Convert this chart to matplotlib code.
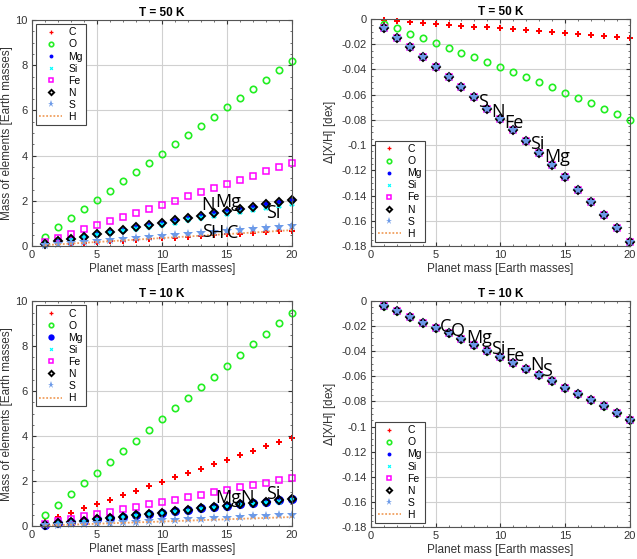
import matplotlib
matplotlib.use("Agg")
import matplotlib.pyplot as plt
from matplotlib.ticker import AutoMinorLocator

plt.rcParams['font.family'] = ['Liberation Sans', 'DejaVu Sans']

planet_mass = [1, 2, 3, 4, 5, 6, 7, 8, 9, 10, 11, 12, 13, 14, 15, 16, 17, 18, 19, 20]

# mass of elements, T = 50 K
C_50 = [0.03, 0.07, 0.10, 0.14, 0.17, 0.20, 0.24, 0.27, 0.31, 0.34, 0.37, 0.41, 0.44, 0.48, 0.51, 0.54, 0.58, 0.61, 0.65, 0.68]
O_50 = [0.41, 0.82, 1.23, 1.64, 2.04, 2.45, 2.86, 3.27, 3.68, 4.09, 4.50, 4.91, 5.32, 5.73, 6.14, 6.55, 6.96, 7.37, 7.78, 8.18]
Mg_50 = [0.10, 0.21, 0.31, 0.41, 0.51, 0.62, 0.72, 0.82, 0.92, 1.03, 1.13, 1.23, 1.33, 1.44, 1.54, 1.64, 1.74, 1.85, 1.95, 2.05]
Si_50 = [0.09, 0.19, 0.28, 0.38, 0.47, 0.56, 0.66, 0.75, 0.85, 0.94, 1.03, 1.13, 1.22, 1.32, 1.41, 1.50, 1.60, 1.69, 1.79, 1.88]
Fe_50 = [0.18, 0.37, 0.55, 0.73, 0.92, 1.10, 1.28, 1.46, 1.65, 1.83, 2.01, 2.20, 2.38, 2.56, 2.75, 2.93, 3.11, 3.30, 3.48, 3.66]
N_50 = [0.10, 0.21, 0.31, 0.41, 0.51, 0.62, 0.72, 0.82, 0.92, 1.03, 1.13, 1.23, 1.33, 1.44, 1.54, 1.64, 1.74, 1.85, 1.95, 2.05]
S_50 = [0.04, 0.09, 0.13, 0.18, 0.22, 0.26, 0.31, 0.35, 0.40, 0.44, 0.48, 0.53, 0.57, 0.62, 0.66, 0.70, 0.75, 0.79, 0.84, 0.88]
H_50 = [0.035, 0.07, 0.105, 0.14, 0.175, 0.21, 0.245, 0.28, 0.315, 0.35, 0.385, 0.42, 0.455, 0.49, 0.525, 0.56, 0.595, 0.63, 0.665, 0.70]

# mass of elements, T = 10 K
C_10 = [0.20, 0.39, 0.59, 0.78, 0.98, 1.18, 1.37, 1.57, 1.77, 1.96, 2.16, 2.36, 2.55, 2.75, 2.95, 3.14, 3.34, 3.54, 3.73, 3.93]
O_10 = [0.475, 0.95, 1.43, 1.90, 2.38, 2.85, 3.33, 3.80, 4.28, 4.75, 5.23, 5.70, 6.18, 6.65, 7.13, 7.60, 8.08, 8.55, 9.03, 9.50]
Mg_10 = [0.06, 0.12, 0.18, 0.24, 0.30, 0.36, 0.42, 0.48, 0.54, 0.60, 0.66, 0.72, 0.78, 0.84, 0.90, 0.96, 1.02, 1.08, 1.14, 1.20]
Si_10 = [0.058, 0.115, 0.17, 0.23, 0.29, 0.35, 0.40, 0.46, 0.52, 0.58, 0.63, 0.69, 0.75, 0.81, 0.86, 0.92, 0.98, 1.04, 1.09, 1.15]
Fe_10 = [0.11, 0.21, 0.32, 0.43, 0.54, 0.64, 0.75, 0.86, 0.97, 1.07, 1.18, 1.29, 1.40, 1.50, 1.61, 1.72, 1.83, 1.93, 2.04, 2.15]
N_10 = [0.06, 0.12, 0.18, 0.24, 0.30, 0.36, 0.42, 0.48, 0.54, 0.60, 0.66, 0.72, 0.78, 0.84, 0.90, 0.96, 1.02, 1.08, 1.14, 1.20]
S_10 = [0.025, 0.05, 0.075, 0.10, 0.125, 0.15, 0.175, 0.20, 0.225, 0.25, 0.275, 0.30, 0.325, 0.35, 0.375, 0.40, 0.425, 0.45, 0.475, 0.50]
H_10 = [0.02, 0.04, 0.06, 0.08, 0.10, 0.12, 0.14, 0.16, 0.18, 0.20, 0.22, 0.24, 0.26, 0.28, 0.30, 0.32, 0.34, 0.36, 0.38, 0.40]

# delta [X/H], T = 50 K
dC_50 = [-0.0008, -0.0015, -0.0022, -0.003, -0.0037, -0.0045, -0.0052, -0.006, -0.0067, -0.0075,
         -0.0082, -0.009, -0.0097, -0.0105, -0.0112, -0.012, -0.0127, -0.0135, -0.0142, -0.015]
dO_50 = [-0.004, -0.0075, -0.0115, -0.0152, -0.019, -0.0228, -0.0267, -0.0305, -0.0343, -0.038,
         -0.042, -0.046, -0.050, -0.054, -0.0585, -0.0627, -0.067, -0.0713, -0.0757, -0.080]
dRock_50 = [-0.0075, -0.015, -0.0225, -0.030, -0.038, -0.046, -0.054, -0.062, -0.071, -0.0795,
            -0.088, -0.097, -0.106, -0.1155, -0.1255, -0.1355, -0.1455, -0.1555, -0.166, -0.177]
dH_50 = [0, 0, 0, 0, 0, 0, 0, 0, 0, 0, 0, 0, 0, 0, 0, 0, 0, 0, 0, 0]

# delta [X/H], T = 10 K (all elements coincide)
dAll_10 = [-0.0045, -0.0085, -0.013, -0.0175, -0.022, -0.026, -0.0305, -0.035, -0.040, -0.045,
           -0.0495, -0.054, -0.059, -0.064, -0.069, -0.074, -0.079, -0.084, -0.089, -0.0945]
dH_10 = [0, 0, 0, 0, 0, 0, 0, 0, 0, 0, 0, 0, 0, 0, 0, 0, 0, 0, 0, 0]

# labels written inside the panels
lab_mass_50 = [("N", 13.0, 1.81), ("Mg", 14.1, 1.95), ("Si", 18.0, 1.46),
               ("S", 13.1, 0.62), ("H", 13.7, 0.57), ("C", 15.0, 0.57)]
lab_dex_50 = [("S", 8.26, -0.0658), ("N", 9.27, -0.0737), ("Fe", 10.3, -0.0826),
              ("Si", 12.3, -0.099), ("Mg", 13.35, -0.1095)]
lab_mass_10 = [("Mg", 14.1, 1.24), ("N", 16.0, 1.24), ("Si", 18.0, 1.42)]
lab_dex_10 = [("C", 5.3, -0.0207), ("O", 6.2, -0.024), ("Mg", 7.4, -0.030), ("Si", 9.3, -0.038),
              ("Fe", 10.4, -0.0438), ("N", 12.3, -0.051), ("S", 13.2, -0.0558)]

names = ["C", "O", "Mg", "Si", "Fe", "N", "S", "H"]
styles = {
    "C": dict(marker="P", color="red", ms=4, mfc="red", mew=0),
    "O": dict(marker="o", color="#22ee22", ms=4.6, mfc="none", mew=1.2),
    "Mg": dict(marker="o", color="blue", ms=4, mfc="blue", mew=0),
    "Si": dict(marker="X", color="cyan", ms=3.8, mfc="cyan", mew=0),
    "Fe": dict(marker="s", color="magenta", ms=3.8, mfc="none", mew=1.1),
    "N": dict(marker="D", color="black", ms=3.8, mfc="none", mew=1.4),
    "S": dict(marker="*", color="#6c9ae8", ms=7.5, mfc="#6c9ae8", mew=0),
}
h_color = "#f0a060"


def draw_panel(ax, series, title, ylim, yticks, legend_loc, labels, big_mg=False):
    for name in names:
        y = series[name]
        if name == "H":
            ax.plot(planet_mass, y, ls=(0, (1, 1)), color=h_color, lw=1.3, label=name)
        else:
            st = dict(styles[name])
            if big_mg and name == "Mg":
                st["ms"] = 6.5
            ax.plot(planet_mass, y, ls="none", label=name, clip_on=False, **st)
    for txt, x, y in labels:
        ax.text(x, y, txt, ha="left", va="center", fontsize=13,
                family=["Open Sans", "DejaVu Sans"], color="black")
    ax.set_xlim(0, 20)
    ax.set_ylim(*ylim)
    ax.set_xticks([0, 5, 10, 15, 20])
    ax.set_yticks(yticks)
    ax.set_yticklabels([f"{v:g}" for v in yticks])
    ax.xaxis.set_minor_locator(AutoMinorLocator(5))
    ax.yaxis.set_minor_locator(AutoMinorLocator(4))
    ax.grid(True, color="#d0d0d0", lw=0.8)
    ax.set_axisbelow(True)
    ax.tick_params(direction="in", length=3, labelsize=8, colors="#333333",
                   top=True, right=True, pad=3)
    ax.tick_params(which="minor", direction="in", length=1.5, color="#555555",
                   top=True, right=True)
    for sp in ax.spines.values():
        sp.set_color("#555555")
        sp.set_linewidth(0.8)
    ax.set_title(title, fontsize=8.5, fontweight="bold", pad=3)
    ax.set_xlabel("Planet mass [Earth masses]", fontsize=8.5, color="#333333", labelpad=2)
    leg = ax.legend(loc=legend_loc, fontsize=7.5, fancybox=False, edgecolor="#444444",
                    framealpha=1, handlelength=2.2, handletextpad=0.6, labelspacing=0.2,
                    borderpad=0.3, borderaxespad=0.4, markerscale=0.7)
    leg.get_frame().set_linewidth(0.8)


fig = plt.figure(figsize=(6.37, 5.59), dpi=100)
ax1 = fig.add_axes([0.050, 0.560, 0.408, 0.404])
ax2 = fig.add_axes([0.582, 0.560, 0.407, 0.406])
ax3 = fig.add_axes([0.050, 0.059, 0.408, 0.402])
ax4 = fig.add_axes([0.582, 0.057, 0.407, 0.405])

draw_panel(ax1, {"C": C_50, "O": O_50, "Mg": Mg_50, "Si": Si_50, "Fe": Fe_50, "N": N_50, "S": S_50, "H": H_50},
           "T = 50 K", (0, 10), [0, 2, 4, 6, 8, 10], "upper left", lab_mass_50)
draw_panel(ax2, {"C": dC_50, "O": dO_50, "Mg": dRock_50, "Si": dRock_50, "Fe": dRock_50, "N": dRock_50,
                 "S": dRock_50, "H": dH_50},
           "T = 50 K", (-0.18, 0), [-0.18, -0.16, -0.14, -0.12, -0.1, -0.08, -0.06, -0.04, -0.02, 0],
           "lower left", lab_dex_50)
draw_panel(ax3, {"C": C_10, "O": O_10, "Mg": Mg_10, "Si": Si_10, "Fe": Fe_10, "N": N_10, "S": S_10, "H": H_10},
           "T = 10 K", (0, 10), [0, 2, 4, 6, 8, 10], "upper left", lab_mass_10, big_mg=True)
draw_panel(ax4, {"C": dAll_10, "O": dAll_10, "Mg": dAll_10, "Si": dAll_10, "Fe": dAll_10, "N": dAll_10,
                 "S": dAll_10, "H": dH_10},
           "T = 10 K", (-0.18, 0), [-0.18, -0.16, -0.14, -0.12, -0.1, -0.08, -0.06, -0.04, -0.02, 0],
           "lower left", lab_dex_10)

ax1.set_ylabel("Mass of elements [Earth masses]", fontsize=8.5, color="#333333", labelpad=2)
ax3.set_ylabel("Mass of elements [Earth masses]", fontsize=8.5, color="#333333", labelpad=2)
ax2.set_ylabel("$\\Delta$[X/H] [dex]", fontsize=8.5, color="#333333", labelpad=2)
ax4.set_ylabel("$\\Delta$[X/H] [dex]", fontsize=8.5, color="#333333", labelpad=2)

fig.savefig("out.png", dpi=100)
